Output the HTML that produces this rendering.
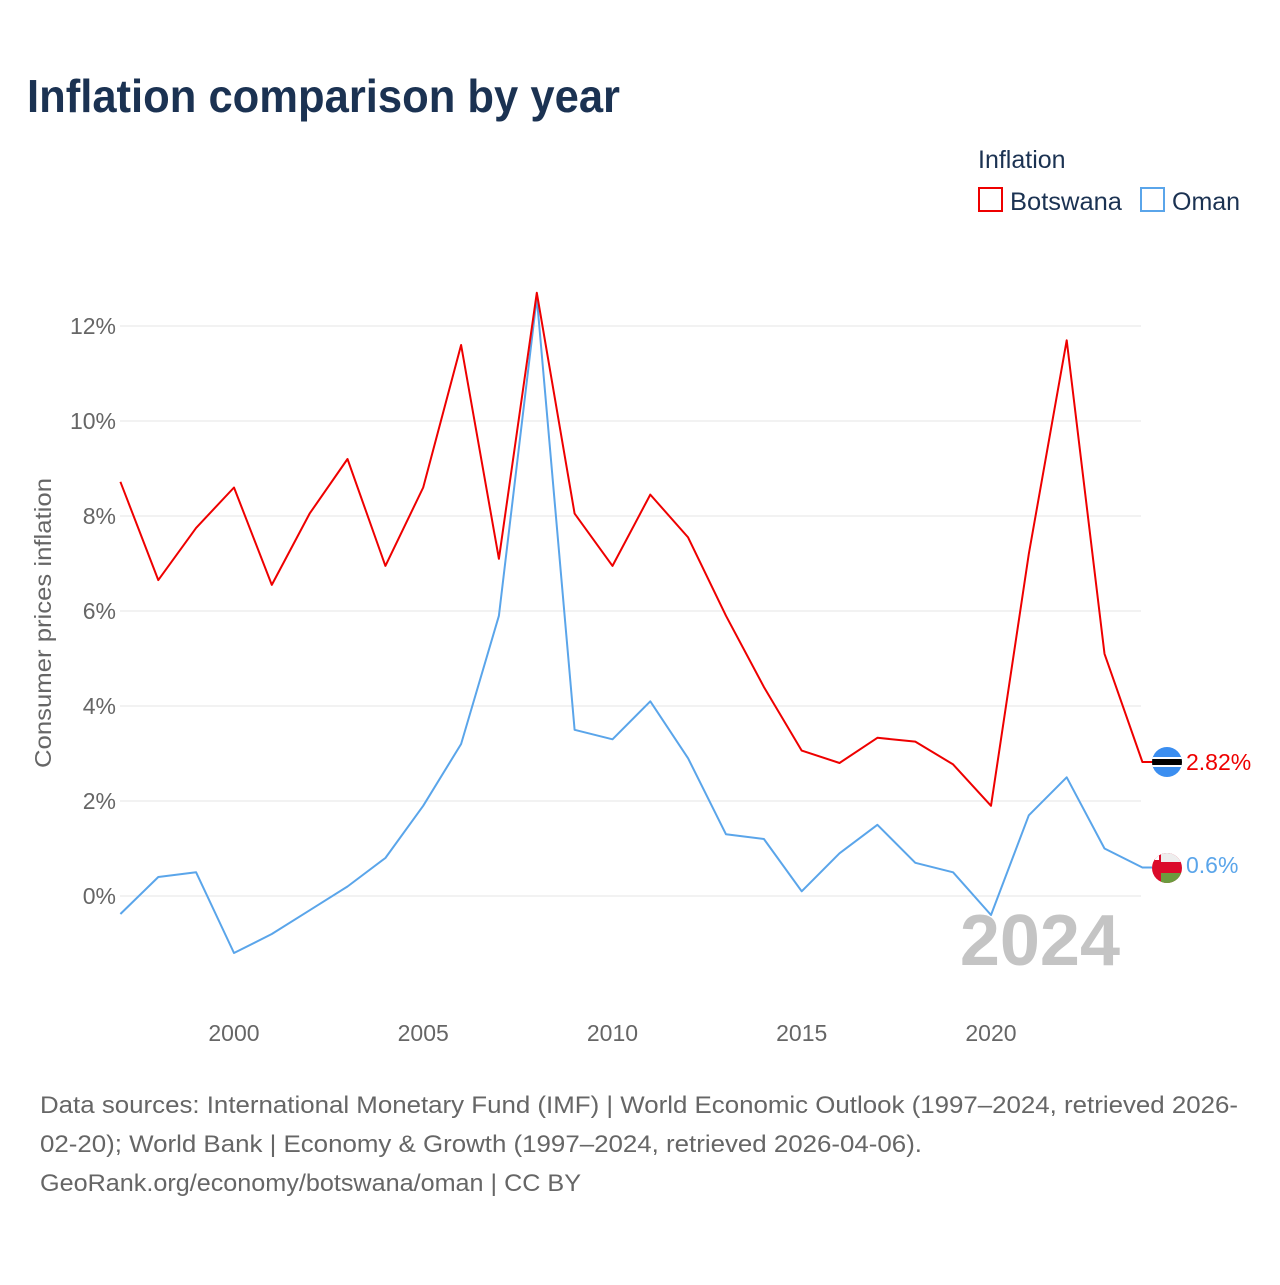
<!DOCTYPE html>
<html><head><meta charset="utf-8"><style>
body{margin:0;background:#fff;width:1280px;height:1280px;overflow:hidden;font-family:"Liberation Sans",sans-serif}
</style></head><body>
<svg width="1280" height="1280" xmlns="http://www.w3.org/2000/svg">
<text x="27" y="112" font-size="46" font-weight="bold" fill="#1b3252" textLength="593" lengthAdjust="spacingAndGlyphs">Inflation comparison by year</text>
<text x="978" y="168" font-size="25" fill="#1b3252">Inflation</text>
<g><rect x="979" y="188" width="23" height="23" fill="none" stroke="#ee0000" stroke-width="2"/><text x="1010" y="210" font-size="25" fill="#1b3252" textLength="112" lengthAdjust="spacingAndGlyphs">Botswana</text></g>
<g><rect x="1141" y="188" width="23" height="23" fill="none" stroke="#5aa5ea" stroke-width="2"/><text x="1172" y="210" font-size="25" fill="#1b3252">Oman</text></g>
<g id="grid"></g><g id="yt"></g><g id="xt"></g>
<text transform="translate(51,623) rotate(-90)" text-anchor="middle" font-size="23" fill="#666" textLength="290" lengthAdjust="spacingAndGlyphs">Consumer prices inflation</text>
<text x="1120" y="965" text-anchor="end" font-size="72" font-weight="bold" fill="#c4c4c4">2024</text>
<g id="lines"></g>
<g><clipPath id="c1"><circle cx="1167" cy="762" r="15"/></clipPath><g clip-path="url(#c1)"><rect x="1150" y="745" width="34" height="34" fill="#3b8ef0"/><rect x="1150" y="757" width="34" height="10" fill="#fff"/><rect x="1150" y="759" width="34" height="6" fill="#000"/></g></g>
<g><clipPath id="c2"><circle cx="1167" cy="868" r="15"/></clipPath><g clip-path="url(#c2)"><rect x="1150" y="851" width="34" height="34" fill="#db0a2a"/><rect x="1161" y="851" width="23" height="11" fill="#eee"/><rect x="1161" y="873" width="23" height="12" fill="#6b9b3e"/><rect x="1155" y="855" width="4" height="5" fill="#fff"/></g></g>
<text x="1186" y="770" font-size="23" fill="#ee0000">2.82%</text>
<text x="1186" y="873" font-size="23" fill="#5aa5ea">0.6%</text>
<text font-size="24" fill="#666" lengthAdjust="spacingAndGlyphs"><tspan x="40" y="1113" textLength="1198" lengthAdjust="spacingAndGlyphs">Data sources: International Monetary Fund (IMF) | World Economic Outlook (1997–2024, retrieved 2026-</tspan><tspan x="40" y="1152" textLength="882" lengthAdjust="spacingAndGlyphs">02-20); World Bank | Economy &amp; Growth (1997–2024, retrieved 2026-04-06).</tspan><tspan x="40" y="1191" textLength="541" lengthAdjust="spacingAndGlyphs">GeoRank.org/economy/botswana/oman | CC BY</tspan></text>
</svg>
<script>
const years=[1997,1998,1999,2000,2001,2002,2003,2004,2005,2006,2007,2008,2009,2010,2011,2012,2013,2014,2015,2016,2017,2018,2019,2020,2021,2022,2023,2024];
const botswana=[8.72,6.65,7.75,8.6,6.55,8.05,9.2,6.95,8.6,11.6,7.1,12.7,8.05,6.95,8.45,7.55,5.9,4.4,3.06,2.8,3.33,3.25,2.77,1.9,7.2,11.7,5.1,2.82];
const oman=[-0.38,0.4,0.5,-1.2,-0.8,-0.3,0.2,0.8,1.9,3.2,5.9,12.6,3.5,3.3,4.1,2.9,1.3,1.2,0.1,0.9,1.5,0.7,0.5,-0.4,1.7,2.5,1.0,0.6];
const yTicks=[0,2,4,6,8,10,12];
const xTicks=[2000,2005,2010,2015,2020];
const X=v=>120.4+(v-1997)*37.85, Y=v=>896-v*47.5;
const NS='http://www.w3.org/2000/svg';
function mk(t,a,p){const e=document.createElementNS(NS,t);for(const k in a)e.setAttribute(k,a[k]);p.appendChild(e);return e;}
const grid=document.getElementById('grid'),yt=document.getElementById('yt'),xt=document.getElementById('xt'),lines=document.getElementById('lines');
yTicks.forEach(v=>{
 const l=mk('line',{x1:120,x2:1141,y1:Y(v),y2:Y(v),stroke:'#e6e6e6','stroke-width':1},grid);
 
 
 const t=mk('text',{x:116,y:Y(v)+8,'text-anchor':'end','font-size':23,fill:'#666'},yt);
 t.textContent=v+'%';
 
 
});
xTicks.forEach(v=>{
 const t=mk('text',{x:X(v),y:1041,'text-anchor':'middle','font-size':23,fill:'#666'},xt);
 t.textContent=v;
 
 
});
function line(d,c,n){
 let p=d.map((v,i)=>(i?'L':'M')+X(years[i]).toFixed(1)+','+Y(v).toFixed(1)).join(' ');
 p+=' L1152,'+Y(d[d.length-1]).toFixed(1);
 const e=mk('path',{d:p,fill:'none',stroke:c,'stroke-width':2,'stroke-linejoin':'round'},lines);
 
 
}
line(oman,'#5aa5ea','oman-line');
line(botswana,'#ee0000','botswana-line');
</script>
</body></html>
